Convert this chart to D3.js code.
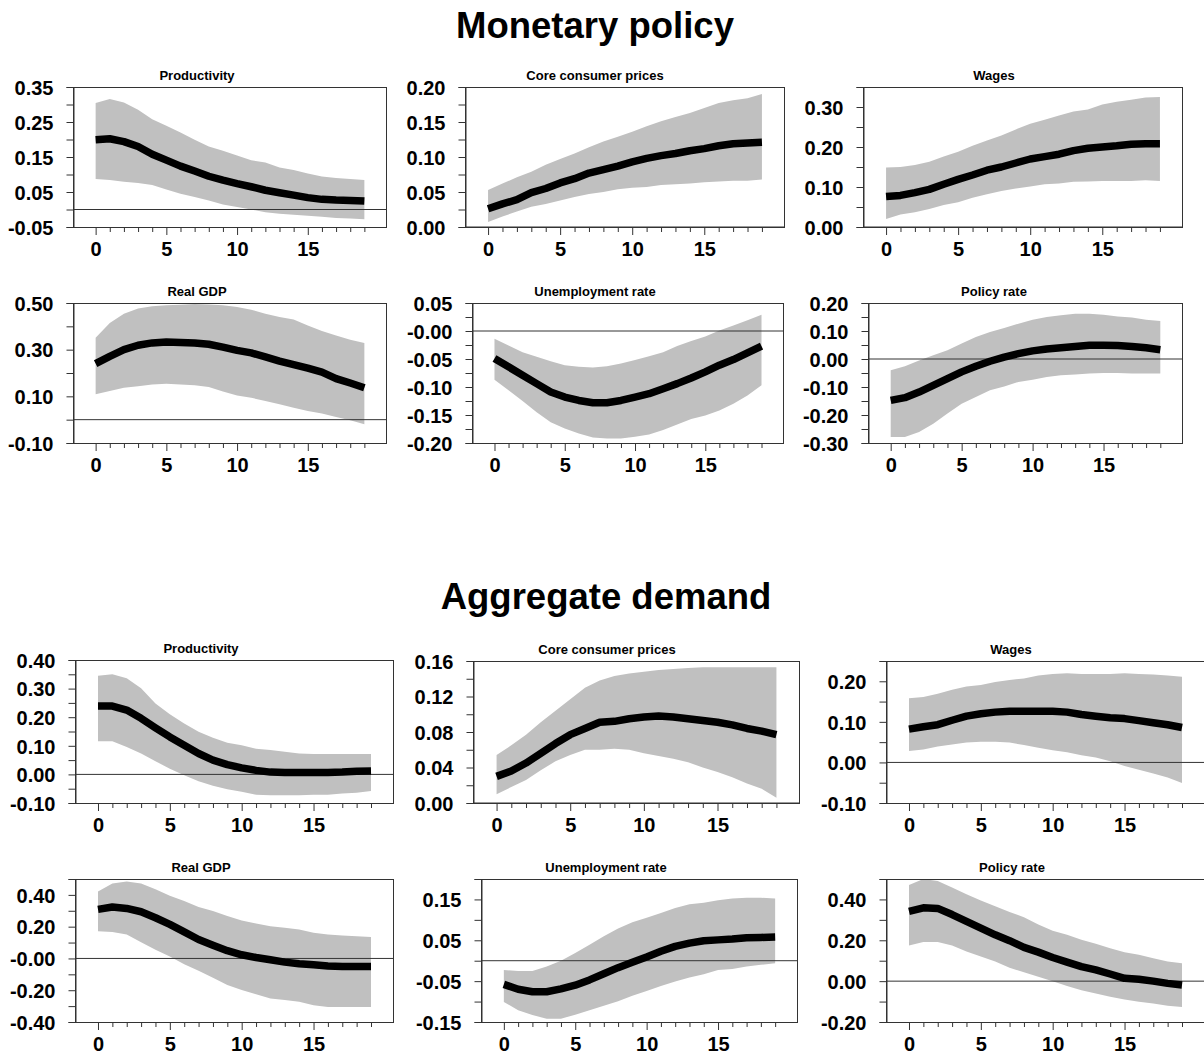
<!DOCTYPE html>
<html>
<head>
<meta charset="utf-8">
<script src="https://cdn.jsdelivr.net/npm/d3@7"></script>
<style>
  body { margin: 0; background: #fff; }
  svg { display: block; }
  text { font-family: "Liberation Sans", Arial, sans-serif; font-weight: bold; fill: #000; }
</style>
</head>
<body>
<svg id="chart" width="1204" height="1055"></svg>
<script>
// Impulse horizons (quarters after the shock)
const horizons = [0,1,2,3,4,5,6,7,8,9,10,11,12,13,14,15,16,17,18,19];
const xTickLabels = ["0", "5", "10", "15"];
const sectionTitles = ["Monetary policy", "Aggregate demand"];
const panelTitles = ["Productivity", "Core consumer prices", "Wages", "Real GDP", "Unemployment rate", "Policy rate"];

// ---- Monetary policy shock: median response and error band ----
const mpProductivityMid  = [0.199,0.202,0.194,0.180,0.158,0.141,0.124,0.110,0.095,0.084,0.074,0.065,0.055,0.048,0.041,0.034,0.029,0.027,0.026,0.024];
const mpProductivityLow  = [0.087,0.084,0.079,0.076,0.070,0.057,0.045,0.036,0.026,0.014,0.007,0.000,-0.008,-0.012,-0.015,-0.018,-0.021,-0.024,-0.026,-0.028];
const mpProductivityHigh = [0.304,0.316,0.306,0.285,0.258,0.239,0.220,0.199,0.180,0.168,0.154,0.141,0.134,0.120,0.113,0.103,0.094,0.090,0.087,0.084];

const mpPricesMid  = [0.026,0.033,0.039,0.049,0.055,0.063,0.069,0.077,0.082,0.087,0.093,0.098,0.102,0.105,0.109,0.112,0.116,0.119,0.120,0.121];
const mpPricesLow  = [0.007,0.015,0.022,0.029,0.033,0.038,0.043,0.047,0.050,0.054,0.056,0.057,0.060,0.061,0.062,0.064,0.065,0.066,0.066,0.068];
const mpPricesHigh = [0.053,0.062,0.071,0.079,0.089,0.097,0.105,0.114,0.122,0.129,0.136,0.144,0.151,0.157,0.163,0.170,0.177,0.181,0.184,0.190];

const mpWagesMid  = [0.076,0.079,0.086,0.094,0.107,0.119,0.130,0.142,0.150,0.160,0.170,0.176,0.182,0.191,0.197,0.200,0.203,0.207,0.208,0.208];
const mpWagesLow  = [0.020,0.031,0.037,0.045,0.055,0.062,0.073,0.082,0.090,0.096,0.101,0.107,0.109,0.113,0.114,0.115,0.115,0.115,0.117,0.115];
const mpWagesHigh = [0.149,0.150,0.155,0.163,0.176,0.188,0.203,0.216,0.229,0.244,0.258,0.268,0.279,0.289,0.294,0.306,0.313,0.318,0.324,0.325];

const mpGdpMid  = [0.240,0.271,0.300,0.319,0.329,0.333,0.331,0.329,0.323,0.311,0.297,0.286,0.269,0.251,0.236,0.221,0.204,0.176,0.157,0.137];
const mpGdpLow  = [0.109,0.123,0.137,0.143,0.151,0.154,0.151,0.147,0.140,0.121,0.104,0.094,0.080,0.066,0.051,0.037,0.026,0.011,-0.003,-0.020];
const mpGdpHigh = [0.351,0.414,0.454,0.476,0.486,0.490,0.493,0.496,0.494,0.490,0.483,0.471,0.454,0.440,0.429,0.404,0.380,0.361,0.343,0.329];

const mpUnempMid  = [-0.049,-0.064,-0.079,-0.094,-0.109,-0.118,-0.124,-0.128,-0.128,-0.124,-0.118,-0.112,-0.103,-0.094,-0.084,-0.073,-0.061,-0.051,-0.039,-0.027];
const mpUnempLow  = [-0.087,-0.106,-0.125,-0.145,-0.163,-0.174,-0.183,-0.190,-0.192,-0.192,-0.189,-0.185,-0.177,-0.167,-0.157,-0.151,-0.142,-0.130,-0.115,-0.097];
const mpUnempHigh = [-0.014,-0.026,-0.038,-0.046,-0.054,-0.061,-0.064,-0.065,-0.063,-0.058,-0.052,-0.045,-0.038,-0.027,-0.018,-0.010,0.001,0.010,0.019,0.029];

const mpRateMid  = [-0.148,-0.138,-0.118,-0.094,-0.070,-0.046,-0.026,-0.008,0.007,0.019,0.029,0.036,0.040,0.045,0.049,0.049,0.048,0.045,0.040,0.033];
const mpRateLow  = [-0.279,-0.279,-0.261,-0.231,-0.195,-0.160,-0.136,-0.112,-0.098,-0.082,-0.074,-0.064,-0.058,-0.055,-0.052,-0.050,-0.050,-0.052,-0.052,-0.052];
const mpRateHigh = [-0.040,-0.026,-0.005,0.013,0.031,0.055,0.079,0.096,0.111,0.126,0.140,0.150,0.156,0.162,0.162,0.158,0.152,0.148,0.140,0.136];

// ---- Aggregate demand shock: median response and error band ----
const adProductivityMid  = [0.239,0.239,0.225,0.196,0.163,0.131,0.102,0.073,0.050,0.034,0.023,0.014,0.008,0.007,0.007,0.007,0.007,0.008,0.011,0.012];
const adProductivityLow  = [0.116,0.116,0.096,0.073,0.046,0.020,-0.003,-0.024,-0.040,-0.052,-0.061,-0.071,-0.073,-0.073,-0.073,-0.071,-0.071,-0.067,-0.064,-0.058];
const adProductivityHigh = [0.345,0.350,0.336,0.301,0.248,0.210,0.178,0.149,0.128,0.111,0.102,0.090,0.085,0.079,0.073,0.071,0.071,0.071,0.071,0.071];

const adPricesMid  = [0.030,0.036,0.045,0.056,0.067,0.077,0.084,0.091,0.092,0.095,0.097,0.098,0.097,0.095,0.093,0.091,0.088,0.084,0.081,0.077];
const adPricesLow  = [0.010,0.018,0.026,0.037,0.047,0.054,0.060,0.060,0.061,0.060,0.056,0.053,0.050,0.046,0.040,0.035,0.029,0.022,0.016,0.006];
const adPricesHigh = [0.054,0.065,0.077,0.091,0.104,0.117,0.130,0.138,0.143,0.146,0.148,0.150,0.151,0.152,0.153,0.153,0.153,0.153,0.153,0.153];

const adWagesMid  = [0.082,0.088,0.093,0.104,0.114,0.120,0.124,0.126,0.126,0.126,0.126,0.124,0.118,0.114,0.110,0.108,0.103,0.098,0.093,0.086];
const adWagesLow  = [0.028,0.032,0.039,0.044,0.049,0.051,0.051,0.049,0.043,0.036,0.030,0.025,0.018,0.012,0.003,-0.009,-0.018,-0.027,-0.037,-0.051];
const adWagesHigh = [0.158,0.161,0.169,0.179,0.187,0.191,0.198,0.203,0.207,0.214,0.218,0.220,0.218,0.218,0.218,0.220,0.218,0.217,0.214,0.211];

const adGdpMid  = [0.309,0.324,0.315,0.294,0.256,0.214,0.167,0.119,0.083,0.049,0.023,0.006,-0.008,-0.023,-0.034,-0.040,-0.047,-0.051,-0.051,-0.051];
const adGdpLow  = [0.171,0.167,0.150,0.102,0.055,0.013,-0.036,-0.078,-0.121,-0.167,-0.199,-0.226,-0.252,-0.262,-0.273,-0.294,-0.305,-0.305,-0.305,-0.305];
const adGdpHigh = [0.421,0.472,0.485,0.472,0.436,0.394,0.362,0.324,0.298,0.267,0.239,0.220,0.203,0.193,0.182,0.161,0.150,0.144,0.140,0.135];

const adUnempMid  = [-0.058,-0.070,-0.076,-0.076,-0.069,-0.060,-0.047,-0.032,-0.017,-0.004,0.009,0.023,0.035,0.043,0.049,0.051,0.053,0.056,0.057,0.058];
const adUnempLow  = [-0.101,-0.121,-0.133,-0.142,-0.142,-0.132,-0.121,-0.110,-0.099,-0.086,-0.074,-0.062,-0.051,-0.041,-0.033,-0.023,-0.020,-0.014,-0.010,-0.006];
const adUnempHigh = [-0.023,-0.025,-0.025,-0.014,0.000,0.019,0.039,0.060,0.079,0.094,0.105,0.117,0.129,0.138,0.142,0.148,0.152,0.154,0.154,0.152];

const adRateMid  = [0.342,0.359,0.356,0.326,0.293,0.260,0.227,0.198,0.165,0.142,0.116,0.093,0.071,0.055,0.035,0.014,0.009,0.000,-0.011,-0.019];
const adRateLow  = [0.175,0.191,0.191,0.175,0.145,0.121,0.096,0.066,0.043,0.022,0.000,-0.024,-0.044,-0.060,-0.077,-0.090,-0.101,-0.110,-0.121,-0.126];
const adRateHigh = [0.471,0.500,0.490,0.458,0.425,0.395,0.367,0.339,0.313,0.277,0.247,0.227,0.203,0.183,0.161,0.142,0.129,0.112,0.096,0.088];

// ---- Y-axis tick labels per panel ----
const mpProductivityYLabels = ["-0.05", "0.05", "0.15", "0.25", "0.35"];
const mpPricesYLabels       = ["0.00", "0.05", "0.10", "0.15", "0.20"];
const mpWagesYLabels        = ["0.00", "0.10", "0.20", "0.30"];
const mpGdpYLabels          = ["-0.10", "0.10", "0.30", "0.50"];
const mpUnempYLabels        = ["-0.20", "-0.15", "-0.10", "-0.05", "-0.00", "0.05"];
const mpRateYLabels         = ["-0.30", "-0.20", "-0.10", "0.00", "0.10", "0.20"];
const adProductivityYLabels = ["-0.10", "0.00", "0.10", "0.20", "0.30", "0.40"];
const adPricesYLabels       = ["0.00", "0.04", "0.08", "0.12", "0.16"];
const adWagesYLabels        = ["-0.10", "0.00", "0.10", "0.20"];
const adGdpYLabels          = ["-0.40", "-0.20", "-0.00", "0.20", "0.40"];
const adUnempYLabels        = ["-0.15", "-0.05", "0.05", "0.15"];
const adRateYLabels         = ["-0.20", "0.00", "0.20", "0.40"];

// Panel definitions: series, axis range, minor tick step and frame position
const panels = [
  { title: panelTitles[0], mid: mpProductivityMid, low: mpProductivityLow, high: mpProductivityHigh, yLabels: mpProductivityYLabels,
    yDomain: [-0.05, 0.35], yStep: 0.05, box: { left: 73, right: 387, top: 87, bottom: 227 }, titleX: 197 },
  { title: panelTitles[1], mid: mpPricesMid, low: mpPricesLow, high: mpPricesHigh, yLabels: mpPricesYLabels,
    yDomain: [0, 0.20], yStep: 0.025, box: { left: 465, right: 785, top: 87, bottom: 227 }, titleX: 595 },
  { title: panelTitles[2], mid: mpWagesMid, low: mpWagesLow, high: mpWagesHigh, yLabels: mpWagesYLabels,
    yDomain: [0, 0.35], yStep: 0.05, box: { left: 863, right: 1183, top: 87, bottom: 227 }, titleX: 994 },
  { title: panelTitles[3], mid: mpGdpMid, low: mpGdpLow, high: mpGdpHigh, yLabels: mpGdpYLabels,
    yDomain: [-0.10, 0.50], yStep: 0.1, box: { left: 73, right: 387, top: 303, bottom: 443 }, titleX: 197 },
  { title: panelTitles[4], mid: mpUnempMid, low: mpUnempLow, high: mpUnempHigh, yLabels: mpUnempYLabels,
    yDomain: [-0.20, 0.05], yStep: 0.025, box: { left: 472, right: 784, top: 303, bottom: 443 }, titleX: 595 },
  { title: panelTitles[5], mid: mpRateMid, low: mpRateLow, high: mpRateHigh, yLabels: mpRateYLabels,
    yDomain: [-0.30, 0.20], yStep: 0.05, box: { left: 868, right: 1183, top: 303, bottom: 443 }, titleX: 994 },

  { title: panelTitles[0], mid: adProductivityMid, low: adProductivityLow, high: adProductivityHigh, yLabels: adProductivityYLabels,
    yDomain: [-0.10, 0.40], yStep: 0.05, box: { left: 75, right: 394, top: 660, bottom: 803 }, titleX: 201 },
  { title: panelTitles[1], mid: adPricesMid, low: adPricesLow, high: adPricesHigh, yLabels: adPricesYLabels,
    yDomain: [0, 0.16], yStep: 0.02, box: { left: 473, right: 800, top: 661, bottom: 803 }, titleX: 607 },
  { title: panelTitles[2], mid: adWagesMid, low: adWagesLow, high: adWagesHigh, yLabels: adWagesYLabels,
    yDomain: [-0.10, 0.25], yStep: 0.05, box: { left: 886, right: 1205, top: 661, bottom: 803 }, titleX: 1011 },
  { title: panelTitles[3], mid: adGdpMid, low: adGdpLow, high: adGdpHigh, yLabels: adGdpYLabels,
    yDomain: [-0.40, 0.50], yStep: 0.1, box: { left: 75, right: 394, top: 879, bottom: 1022 }, titleX: 201 },
  { title: panelTitles[4], mid: adUnempMid, low: adUnempLow, high: adUnempHigh, yLabels: adUnempYLabels,
    yDomain: [-0.15, 0.20], yStep: 0.05, box: { left: 481, right: 798, top: 879, bottom: 1022 }, titleX: 606 },
  { title: panelTitles[5], mid: adRateMid, low: adRateLow, high: adRateHigh, yLabels: adRateYLabels,
    yDomain: [-0.20, 0.50], yStep: 0.1, box: { left: 886, right: 1205, top: 879, bottom: 1022 }, titleX: 1012 }
];

const svg = d3.select("#chart");
svg.append("rect").attr("width", 1204).attr("height", 1055).attr("fill", "#fff");

// Section headings
svg.append("text").attr("x", 595).attr("y", 38).attr("text-anchor", "middle")
  .style("font-size", "36.5px").text(sectionTitles[0]);
svg.append("text").attr("x", 606).attr("y", 609).attr("text-anchor", "middle")
  .style("font-size", "36.5px").text(sectionTitles[1]);

const frameColor = "#333";

panels.forEach((p, idx) => {
  const b = p.box;
  const g = svg.append("g");
  const x = d3.scaleLinear().domain([-1.6, 20.6]).range([b.left, b.right]);
  const y = d3.scaleLinear().domain(p.yDomain).range([b.bottom, b.top]);

  const clipId = "clip" + idx;
  g.append("clipPath").attr("id", clipId)
    .append("rect").attr("x", b.left).attr("y", b.top)
    .attr("width", b.right - b.left).attr("height", b.bottom - b.top);

  const rows = horizons.map((h, i) => ({ h, mid: p.mid[i], low: p.low[i], high: p.high[i] }));

  const plot = g.append("g").attr("clip-path", `url(#${clipId})`);

  // Error band
  plot.append("path").datum(rows)
    .attr("d", d3.area().x(d => x(d.h)).y0(d => y(d.low)).y1(d => y(d.high)))
    .attr("fill", "#c0c0c0");

  // Zero reference line
  plot.append("line")
    .attr("x1", b.left).attr("x2", b.right)
    .attr("y1", y(0)).attr("y2", y(0))
    .attr("stroke", frameColor).attr("stroke-width", 1);

  // Median response
  plot.append("path").datum(rows)
    .attr("d", d3.line().x(d => x(d.h)).y(d => y(d.mid)))
    .attr("fill", "none").attr("stroke", "#000")
    .attr("stroke-width", 7.5).attr("stroke-linejoin", "round");

  // Frame
  g.append("rect")
    .attr("x", b.left + 0.5).attr("y", b.top + 0.5)
    .attr("width", b.right - b.left - 1).attr("height", b.bottom - b.top)
    .attr("fill", "none").attr("stroke", frameColor).attr("stroke-width", 1);

  // Y axis: a tick at every step, labels at the listed values
  const n0 = Math.round(p.yDomain[0] / p.yStep);
  const n1 = Math.round(p.yDomain[1] / p.yStep);
  const yTicks = d3.range(n0, n1 + 1).map(k => +(k * p.yStep).toFixed(4));
  const labelAt = new Map(p.yLabels.map(s => [+parseFloat(s).toFixed(4), s]));
  const yAxis = d3.axisLeft(y).tickValues(yTicks).tickSize(7).tickPadding(13)
    .tickFormat(v => labelAt.has(+v.toFixed(4)) ? labelAt.get(+v.toFixed(4)) : (Object.is(v, -0) && labelAt.has(0) ? labelAt.get(0) : ""));
  const ya = g.append("g").attr("transform", `translate(${b.left + 0.5},0)`).call(yAxis);
  ya.select(".domain").attr("stroke", frameColor);
  ya.selectAll(".tick line").attr("stroke", frameColor);
  ya.selectAll(".tick text").attr("font-size", null).style("font-size", "20px")
    .attr("font-family", null).attr("dy", "0.36em");

  // X axis: a tick at each horizon, longer ticks with labels every fifth
  const majorSet = new Set(xTickLabels.map(Number));
  const xAxis = d3.axisBottom(x).tickValues(horizons).tickSize(5).tickPadding(10)
    .tickFormat(v => majorSet.has(v) ? String(v) : "");
  const xa = g.append("g").attr("transform", `translate(0,${b.bottom})`).call(xAxis);
  xa.select(".domain").remove();
  xa.selectAll(".tick line").attr("stroke", frameColor)
    .attr("y2", d => majorSet.has(d) ? 8 : 5);
  xa.selectAll(".tick text").attr("font-size", null).style("font-size", "20px")
    .attr("font-family", null);

  // Panel title
  g.append("text").attr("x", p.titleX).attr("y", b.top - 7.5)
    .attr("text-anchor", "middle").style("font-size", "13px").text(p.title);
});
</script>
</body>
</html>
